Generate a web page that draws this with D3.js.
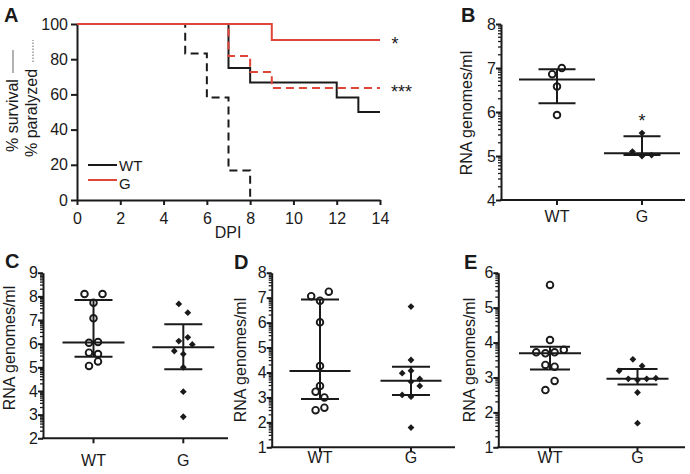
<!DOCTYPE html>
<html><head><meta charset="utf-8">
<script src="https://cdn.jsdelivr.net/npm/d3@7"></script>
<style>body{margin:0;background:#fff} svg{display:block}</style>
</head><body><svg id="c" width="690" height="474"></svg>
<script>
// ---------- DATA ----------
const dpiTicks = [0, 2, 4, 6, 8, 10, 12, 14];
const pctTicks = [0, 20, 40, 60, 80, 100];
const survWT_day = [0, 7, 8, 12, 13, 14];
const survWT_pct = [100, 75, 66.7, 58.3, 50, 50];
const parWT_day = [0, 5, 6, 7, 8];
const parWT_pct = [100, 83.3, 58.3, 16.7, 0];
const survG_day = [0, 9, 14];
const survG_pct = [100, 90.9, 90.9];
const parG_day = [0, 7, 8, 9, 14];
const parG_pct = [100, 81.8, 72.7, 63.6, 63.6];
const groups = ["WT", "G"];

// Panel B
const bWT = [7.00, 6.86, 6.58, 5.93];
const bWTjit = [1, -1, 0, 0];
const bG = [5.10, 5.52, 5.00, 5.02];
const bGjit = [-2, 0, 0, 2];
const bMedian = [6.74, 5.06], bQ1 = [6.20, 5.02], bQ3 = [6.97, 5.45];
// Panel C
const cWT = [8.10, 8.10, 7.73, 7.07, 6.04, 6.07, 5.62, 5.56, 5.06, 5.25];
const cWTjit = [-2, 2, 0, 0, -1, 1, -1, 1, -1, 1];
const cG = [7.68, 7.31, 6.27, 6.11, 5.97, 5.69, 5.56, 5.00, 3.97, 2.91];
const cGjit = [-1, 1, 1, -1, 2, -2, 0, 0, 0, 0];
const cMedian = [6.05, 5.85], cQ1 = [5.45, 4.92], cQ3 = [7.85, 6.82];
// Panel D
const dWT = [7.06, 7.24, 6.88, 6.01, 4.26, 3.46, 3.23, 3.00, 2.49, 2.59];
const dWTjit = [-2, 2, 0, 0, 0, 0, -1, 1, -1, 1];
const dG = [6.64, 4.50, 3.97, 4.07, 3.63, 3.74, 3.46, 3.10, 3.03, 1.79];
const dGjit = [0, 0, -2, 0, 0, 2, 2, -2, 0, 0];
const dMedian = [4.06, 3.67], dQ1 = [2.94, 3.10], dQ3 = [6.93, 4.23];
// Panel E
const eWT = [5.65, 4.07, 3.72, 3.69, 3.72, 3.79, 3.36, 3.31, 2.90, 2.64];
const eWTjit = [0, 0, -3, -1, 1, 3, -1, 1, 1, -1];
const eG = [3.52, 3.33, 3.19, 2.96, 2.93, 2.96, 2.98, 2.57, 1.69];
const eGjit = [-1, 1, -4, -2, 0, 2, 4, 0, 0];
const eMedian = [3.69, 2.96], eQ1 = [3.23, 2.80], eQ3 = [3.88, 3.24];

// ---------- STYLE ----------
const FONT = '"Liberation Sans", Arial, sans-serif';
const INK = "#1a1a1a";
const RED = "#e0453a";
const svg = d3.select("#c");

function styleAxis(g) {
  g.attr("font-size", 16).attr("font-family", FONT);
  g.select(".domain").attr("stroke", INK).attr("stroke-width", 2);
  g.selectAll(".tick line").attr("stroke", INK).attr("stroke-width", 2);
  g.selectAll(".tick text").attr("fill", INK);
}
function txt(x, y, s, opt = {}) {
  return svg.append("text").attr("x", x).attr("y", y).text(s)
    .attr("font-family", FONT).attr("font-size", opt.size || 16)
    .attr("font-weight", opt.weight || "normal")
    .attr("text-anchor", opt.anchor || "start").attr("fill", INK);
}

// ---------- PANEL A ----------
const ax = d3.scaleLinear().domain([0, 14]).range([77, 380]);
const ay = d3.scaleLinear().domain([0, 100]).range([200, 24]);
svg.append("g").attr("transform", "translate(0,200)")
  .call(d3.axisBottom(ax).tickValues(dpiTicks).tickSize(5).tickSizeOuter(0).tickPadding(8))
  .call(styleAxis);
svg.append("g").attr("transform", "translate(77,0)")
  .call(d3.axisLeft(ay).tickValues(pctTicks).tickSize(6).tickSizeOuter(0).tickPadding(3))
  .call(styleAxis);

const step = d3.line().x(d => ax(d[0])).y(d => ay(d[1])).curve(d3.curveStepAfter);
const zip = (a, b) => a.map((v, i) => [v, b[i]]);
const curves = [
  {d: zip(parWT_day, parWT_pct), c: INK, dash: "8,5"},
  {d: zip(survWT_day, survWT_pct), c: INK, dash: null},
  {d: zip(parG_day, parG_pct), c: RED, dash: "8,5"},
  {d: zip(survG_day, survG_pct), c: RED, dash: null}
];
curves.forEach(cv => {
  svg.append("path").attr("d", step(cv.d)).attr("fill", "none")
    .attr("stroke", cv.c).attr("stroke-width", 2)
    .attr("stroke-dasharray", cv.dash);
});

// legend
[["WT", INK, 165, 171], ["G", RED, 180, 189]].forEach(([lab, col, y, ty]) => {
  svg.append("line").attr("x1", 88).attr("x2", 117).attr("y1", y).attr("y2", y)
    .attr("stroke", col).attr("stroke-width", 2);
  txt(119, ty, lab, {size: 15});
});
txt(395, 50, "*", {anchor: "middle", size: 18});
txt(391, 98, "***", {size: 18});
txt(228, 238, "DPI", {anchor: "middle"});
txt(4, 22, "A", {weight: "bold", size: 20});

// A y titles
svg.append("text").attr("transform", "translate(18,152) rotate(-90)")
  .attr("font-family", FONT).attr("font-size", 16).attr("fill", INK).text("% survival");
svg.append("line").attr("x1", 13).attr("x2", 13).attr("y1", 73).attr("y2", 50)
  .attr("stroke", "#999").attr("stroke-width", 1.5);
svg.append("text").attr("transform", "translate(37,157) rotate(-90)")
  .attr("font-family", FONT).attr("font-size", 16).attr("fill", INK).text("% paralyzed");
svg.append("line").attr("x1", 33).attr("x2", 33).attr("y1", 62).attr("y2", 40)
  .attr("stroke", "#999").attr("stroke-width", 1.5).attr("stroke-dasharray", "1.5,1.5");

// ---------- SCATTER PANELS ----------
const panels = [
  {L: "B", x0: 501, x1: 685, yTop: 24, yBot: 200, dom: [4, 8], cx: [557, 642], lab: 222,
   tX: 471.5, tCY: 113, lx: 461, ly: 22, mh: 38, ch: 18.5, jit: 4.8,
   vals: [bWT, bG], jits: [bWTjit, bGjit], med: bMedian, q1: bQ1, q3: bQ3},
  {L: "C", x0: 43, x1: 228, yTop: 272.7, yBot: 438.3, dom: [2, 9], cx: [93.5, 183.3], lab: 466,
   tX: 15, tCY: 348, lx: 5, ly: 268, mh: 31, ch: 19, jit: 4.5,
   vals: [cWT, cG], jits: [cWTjit, cGjit], med: cMedian, q1: cQ1, q3: cQ3},
  {L: "D", x0: 271.7, x1: 455, yTop: 272.7, yBot: 447.3, dom: [1, 8], cx: [320, 411], lab: 463,
   tX: 246, tCY: 360, lx: 234, ly: 269, mh: 30.5, ch: 19, jit: 4.4,
   vals: [dWT, dG], jits: [dWTjit, dGjit], med: dMedian, q1: dQ1, q3: dQ3},
  {L: "E", x0: 498.3, x1: 685, yTop: 272.7, yBot: 447.3, dom: [1, 6], cx: [550, 637.5], lab: 463,
   tX: 475, tCY: 360, lx: 464, ly: 269, mh: 31, ch: 20, jit: 4.6,
   vals: [eWT, eG], jits: [eWTjit, eGjit], med: eMedian, q1: eQ1, q3: eQ3}
];

panels.forEach(p => {
  const y = d3.scaleLinear().domain(p.dom).range([p.yBot, p.yTop]);
  const x = d3.scaleOrdinal().domain(groups).range(p.cx);
  const major = d3.range(p.dom[0], p.dom[1] + 1);
  svg.append("g").attr("transform", `translate(${p.x0},0)`)
    .call(d3.axisLeft(y).tickValues(major).tickFormat(d3.format("d")).tickSize(5).tickSizeOuter(0).tickPadding(0))
    .call(styleAxis);
  // log minor ticks
  const minor = [];
  for (let n = p.dom[0]; n < p.dom[1]; n++) for (let k = 2; k <= 9; k++) minor.push(n + Math.log10(k));
  svg.selectAll(null).data(minor).enter().append("line")
    .attr("x1", p.x0 - 3).attr("x2", p.x0).attr("y1", d => y(d)).attr("y2", d => y(d))
    .attr("stroke", INK).attr("stroke-width", 1.3);
  // x axis
  svg.append("line").attr("x1", p.x0 - 1).attr("x2", p.x1).attr("y1", p.yBot).attr("y2", p.yBot)
    .attr("stroke", INK).attr("stroke-width", 2);
  groups.forEach((gname, gi) => {
    const cx = x(gname);
    svg.append("line").attr("x1", cx).attr("x2", cx).attr("y1", p.yBot).attr("y2", p.yBot + 5)
      .attr("stroke", INK).attr("stroke-width", 2);
    txt(cx, p.lab, gname, {anchor: "middle"});
    // error bars: median with IQR
    const eb = svg.append("g").attr("stroke", INK).attr("stroke-width", 2);
    eb.append("line").attr("x1", cx).attr("x2", cx).attr("y1", y(p.q1[gi])).attr("y2", y(p.q3[gi]));
    [p.q1[gi], p.q3[gi]].forEach(v => eb.append("line").attr("x1", cx - p.ch).attr("x2", cx + p.ch)
      .attr("y1", y(v)).attr("y2", y(v)));
    eb.append("line").attr("x1", cx - p.mh).attr("x2", cx + p.mh)
      .attr("y1", y(p.med[gi])).attr("y2", y(p.med[gi]));
    // points
    const pts = p.vals[gi].map((v, i) => ({v, j: p.jits[gi][i]}));
    if (gi === 0) {
      svg.selectAll(null).data(pts).enter().append("circle")
        .attr("cx", d => cx + d.j * p.jit).attr("cy", d => y(d.v)).attr("r", 3.3)
        .attr("fill", "none").attr("stroke", INK).attr("stroke-width", 1.9);
    } else {
      const s = 3.4;
      svg.selectAll(null).data(pts).enter().append("path")
        .attr("d", d => { const px = cx + d.j * p.jit, py = y(d.v);
          return `M${px},${py - s}L${px + s},${py}L${px},${py + s}L${px - s},${py}Z`; })
        .attr("fill", INK);
    }
  });
  svg.append("text").attr("transform", `translate(${p.tX},${p.tCY}) rotate(-90)`)
    .attr("text-anchor", "middle").attr("font-family", FONT).attr("font-size", 16)
    .attr("fill", INK).text("RNA genomes/ml");
  txt(p.lx, p.ly, p.L, {weight: "bold", size: 20});
});
txt(642, 127, "*", {anchor: "middle", size: 18});
</script></body></html>
